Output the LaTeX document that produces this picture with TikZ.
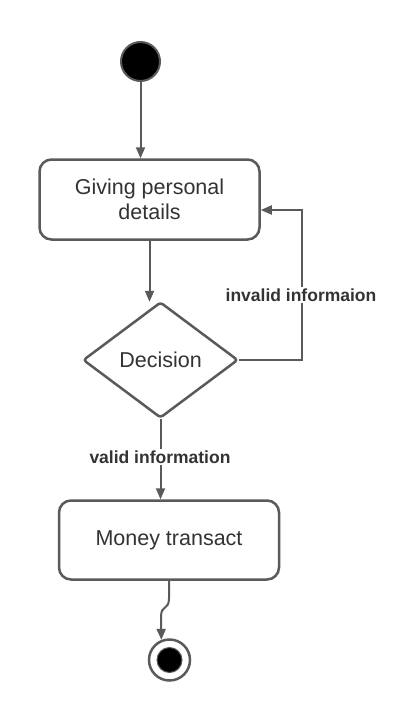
\documentclass[tikz,border=0pt]{standalone}
\usepackage{fontspec}
\setmainfont{Liberation Sans}
\usetikzlibrary{arrows.meta,shapes.geometric}
\definecolor{ln}{HTML}{5A5A5A}
\definecolor{tx}{HTML}{333333}
\begin{document}
\begin{tikzpicture}[x=1pt,y=-1pt,
  act/.style={draw=ln, line width=2.5pt, rounded corners=12pt, fill=white, text=tx,
    align=center, font=\fontsize{21.5}{25}\selectfont, inner sep=0pt},
  dec/.style={diamond, draw=ln, line width=2.5pt, rounded corners=3pt, fill=white, text=tx,
    font=\fontsize{21.5}{25}\selectfont, inner sep=0pt, minimum width=155pt, minimum height=116pt},
  conn/.style={draw=ln, line width=2pt, -{Triangle[length=11pt,width=9pt]}},
  plain/.style={draw=ln, line width=2pt},
  lbl/.style={fill=white, text=tx, font=\fontsize{17.5}{20}\selectfont\bfseries, inner sep=2pt}
]
\useasboundingbox[fill=white] (0,0) rectangle (418,720);

\node[circle, fill=black, draw=ln, line width=2pt, minimum size=39pt, inner sep=0pt] (s) at (140.5,61.5) {};
\node[act, minimum width=220pt, minimum height=80pt] (g) at (149.5,199.5) {Giving personal\\details};
\node[dec] (d) at (160.5,360) {Decision};
\node[act, minimum width=220pt, minimum height=79pt] (m) at (169,540) {Money transact};
\node[circle, draw=ln, line width=2.5pt, minimum size=41pt, inner sep=0pt] (e) at (169.5,660) {};
\node[circle, fill=black, draw=ln, line width=1pt, minimum size=25pt, inner sep=0pt] (ei) at (e.center) {};

\draw[conn] (s.south) -- (s.south |- g.north);
\draw[conn] (g.south) -- ([yshift=-1pt]g.south |- d.north);
\draw[conn] (d.east) -- (302,360) -- (302,210) -- ([yshift=-10.5pt]g.east);
\node[lbl] (li) at (301,295) {invalid informaion};
\draw[conn] (d.south) -- (d.south |- m.north);
\node[lbl] (lv) at (160,457) {valid information};
\coordinate (w1) at (169,598);
\coordinate (w2) at (161,617);
\draw[conn] (m.south) -- (w1) .. controls (169,611) and (161,604) .. (w2) -- (e.112);
\end{tikzpicture}
\end{document}
